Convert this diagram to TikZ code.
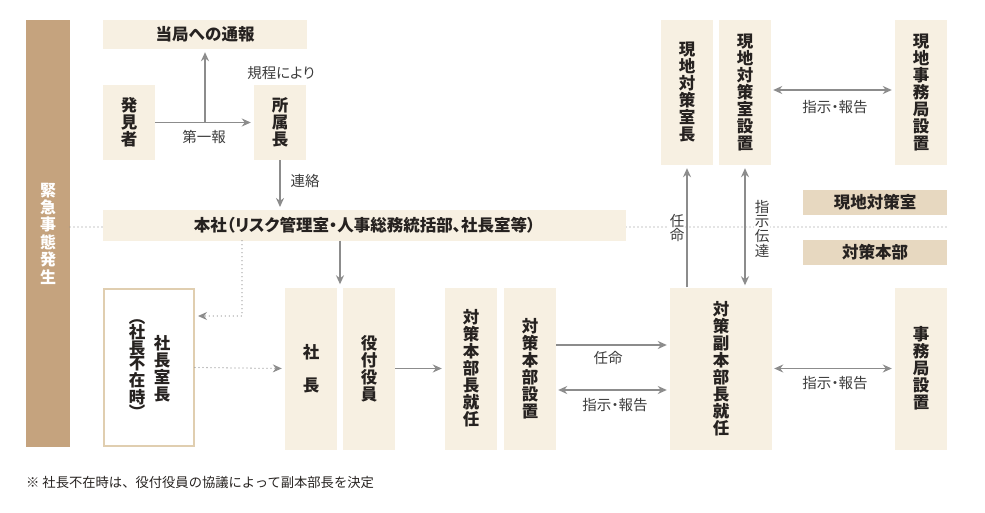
\documentclass[tikz,border=0pt]{standalone}
\usepackage{fontspec}
\setmainfont{Noto Sans CJK JP}
\newfontfamily\jpprop[RawFeature=+palt]{Noto Sans CJK JP}
\usetikzlibrary{arrows.meta,calc}

\definecolor{boxCream}{RGB}{247,240,226}
\definecolor{barBrown}{RGB}{197,163,126}
\definecolor{tagTan}{RGB}{231,216,192}
\definecolor{frameTan}{RGB}{224,206,176}
\definecolor{arrowGray}{RGB}{140,140,140}
\definecolor{textDark}{RGB}{38,34,32}
\definecolor{labelGray}{RGB}{60,60,60}

\tikzset{
    vbox/.style={fill=boxCream, text=textDark, inner sep=0pt, align=center,
        minimum width=52pt, minimum height=162pt,
        font=\fontsize{16.5}{17}\selectfont\bfseries},
    tagbox/.style={fill=tagTan, text=textDark, inner sep=0pt,
        minimum width=144pt, minimum height=25pt,
        font=\fontsize{16.5}{17}\selectfont\bfseries},
    lbl/.style={text=labelGray, inner sep=0pt, align=center,
        font=\jpprop\fontsize{14.5}{14.7}\selectfont},
    arr/.style={draw=arrowGray, line width=1.7pt,
        -{Stealth[length=9pt,width=8pt]}, shorten >=3pt},
    darr/.style={draw=arrowGray, line width=1.7pt,
        {Stealth[length=9pt,width=8pt]}-{Stealth[length=9pt,width=8pt]},
        shorten <=2pt, shorten >=3pt},
    dotline/.style={draw=arrowGray, line width=1.3pt,
        dash pattern=on 0pt off 4pt, line cap=round},
    dotarr/.style={dotline, -{Stealth[length=9pt,width=8pt]}, shorten >=3pt},
}

\begin{document}
\begin{tikzpicture}[x=1pt, y=-1pt]
    \useasboundingbox (0,0) rectangle (985,513);

    % --- left bar ---
    \node[fill=barBrown, text=white, inner sep=0pt, align=center,
        minimum width=44pt, minimum height=427pt,
        font=\fontsize{16}{17.4}\selectfont\bfseries] (hassei) at (48,233.5)
        {緊\\急\\事\\態\\発\\生};

    % --- separator line ---
    \coordinate (sepL) at (70,227);
    \coordinate (sepR) at (947,227);

    % --- ROW 1: first report ---
    \node[vbox, minimum width=204pt, minimum height=29pt] (tsuho) at (205,34.5) {当局への通報};
    \node[vbox, minimum height=75pt] (hakken) at (129,122.5) {発\\見\\者};
    \node[vbox, minimum height=75pt] (shozoku) at (280,122.5) {所\\属\\長};
    \node[lbl] (lblKitei) at (281,73) {規程により};
    \node[lbl] (lblDaiippo) at (204,137) {第一報};
    \node[lbl] (lblRenraku) at (305,181) {連絡};

    \draw[arr] (hakken.east) -- (shozoku.west);
    \draw[arr] (hakken.east -| tsuho.south) -- (tsuho.south);
    \draw[arr] (shozoku.south) -- (shozoku.south |- 0,210);

    % --- ROW 2: head office ---
    \draw[dotline] (sepL) -- (103,227);
    \draw[dotline] (626,227) -- (sepR);
    \node[vbox, minimum width=523pt, minimum height=30pt,
        font=\jpprop\fontsize{16.5}{17}\selectfont\bfseries] (honsha) at (364.5,225.5)
        {本社（リスク管理室・人事総務統括部、社長室等）};

    % --- ROW 3: headquarters ---
    \node[draw=frameTan, line width=2pt, fill=white, minimum width=90pt,
        minimum height=157pt] (shachoshitsu) at (149,367.5) {};
    \node[vbox, fill=none, minimum width=0pt, minimum height=0pt] (shachoshitsuA)
        at (162,369) {社\\長\\室\\長};
    \node[vbox, fill=none, minimum width=0pt, minimum height=0pt,
        font=\fontsize{16.5}{15.5}\selectfont\bfseries] (shachoshitsuB)
        at (137,369) {︵\\社\\長\\不\\在\\時\\︶};

    \node[vbox] (shacho) at (311,368.5) {社\\[16pt]長};
    \node[vbox] (yakuin) at (369,368.5) {役\\付\\役\\員};
    \node[vbox] (honbucho) at (471,368.5) {対\\策\\本\\部\\長\\就\\任};
    \node[vbox] (honbusecchi) at (530,368.5) {対\\策\\本\\部\\設\\置};
    \node[vbox, minimum width=102pt] (fukuhonbucho) at (721,368.5) {対\\策\\副\\本\\部\\長\\就\\任};
    \node[vbox] (jimukyoku) at (921,368.5) {事\\務\\局\\設\\置};

    \coordinate (topGap) at ($(shacho.north east)!0.5!(yakuin.north west)$);
    \coordinate (dotTurn) at (242,316);
    \draw[arr] (topGap |- honsha.south) -- (topGap);
    \draw[dotarr] (dotTurn |- honsha.south) -- (dotTurn) -- (dotTurn -| shachoshitsu.east);
    \draw[dotarr] (shachoshitsu.east) -- (shacho.west);
    \draw[arr] (yakuin.east) -- (honbucho.west);
    \draw[arr] ([yshift=23.5pt]honbusecchi.east) -- ([yshift=23.5pt]honbusecchi.east -| fukuhonbucho.west);
    \draw[darr] ([yshift=-21.5pt]honbusecchi.east) -- ([yshift=-21.5pt]honbusecchi.east -| fukuhonbucho.west);
    \draw[darr] (fukuhonbucho.east) -- (jimukyoku.west);
    \node[lbl] (lblNinmei) at (608,358) {任命};
    \node[lbl] (lblShijiMid) at (615,405) {指示・報告};
    \node[lbl] (lblShijiRight) at (835,383) {指示・報告};

    % --- ROW 4: local office ---
    \node[vbox, minimum height=145pt] (genchicho) at (687,92.5) {現\\地\\対\\策\\室\\長};
    \node[vbox, minimum height=145pt] (genchisecchi) at (745,92.5) {現\\地\\対\\策\\室\\設\\置};
    \node[vbox, minimum height=145pt] (genchijimu) at (921,92.5) {現\\地\\事\\務\\局\\設\\置};
    \node[tagbox] (tagGenchi) at (875,202.5) {現地対策室};
    \node[tagbox] (tagHonbu) at (875,252.5) {対策本部};

    \draw[darr] ([yshift=2.5pt]genchisecchi.east) -- ([yshift=2.5pt]genchijimu.west);
    \node[lbl] (lblShijiTop) at (835,107) {指示・報告};
    \draw[arr] (genchicho.south |- fukuhonbucho.north) -- (genchicho.south);
    \draw[darr] (genchisecchi.south |- fukuhonbucho.north) -- (genchisecchi.south);
    \node[lbl, fill=white, inner sep=1pt] (lblNinmeiV) at (677,228) {任\\命};
    \node[lbl, fill=white, inner sep=1pt] (lblDentatsu) at (762,228.5) {指\\示\\伝\\達};

    % --- footnote ---
    \node[anchor=west, inner sep=0pt, text=textDark,
        font=\fontsize{13.3}{14}\selectfont] (note) at (26,482)
        {※ 社長不在時は、役付役員の協議によって副本部長を決定};

\end{tikzpicture}
\end{document}
